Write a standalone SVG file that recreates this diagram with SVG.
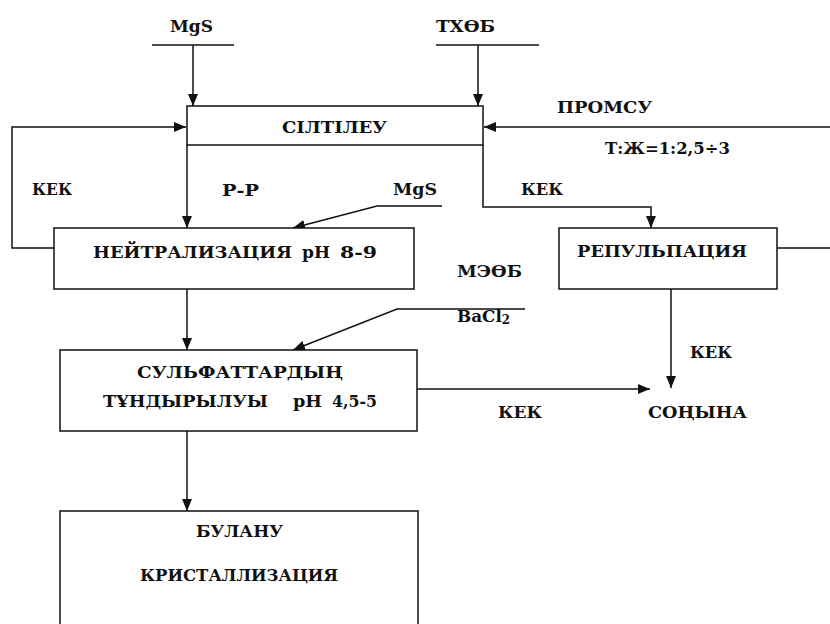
<svg xmlns="http://www.w3.org/2000/svg" width="830" height="624" viewBox="0 0 830 624">
<style>
.t{font-family:'DejaVu Serif','Liberation Serif',serif;font-weight:700;font-size:17px;fill:#111}
.b{fill:#fff;stroke:#111;stroke-width:1.5}
.c{fill:none;stroke:#111;stroke-width:1.5}
</style>
<defs>
<marker id="ah" markerUnits="userSpaceOnUse" markerWidth="12" markerHeight="12" viewBox="0 0 12 12" refX="12" refY="6" orient="auto">
<path d="M0,1 L12,6 L0,11 Z" fill="#111"/>
</marker>
</defs>
<rect width="830" height="624" fill="#fff"/>
<g id="connectors">
<path class="c" d="M152,45 H234"/>
<path class="c" d="M193,45 V106" marker-end="url(#ah)"/>
<path class="c" d="M436,45 H539"/>
<path class="c" d="M478,45 V106" marker-end="url(#ah)"/>
<path class="c" d="M54,248 H12 V127 H186" marker-end="url(#ah)"/>
<path class="c" d="M187,145 V228" marker-end="url(#ah)"/>
<path class="c" d="M442,206 H377 L293,228" marker-end="url(#ah)"/>
<path class="c" d="M830,127 H484" marker-end="url(#ah)"/>
<path class="c" d="M483,145 V207 H651 V228" marker-end="url(#ah)"/>
<path class="c" d="M777,248 H830"/>
<path class="c" d="M187,289 V350" marker-end="url(#ah)"/>
<path class="c" d="M525,309 H397 L293,350" marker-end="url(#ah)"/>
<path class="c" d="M417,389 H650" marker-end="url(#ah)"/>
<path class="c" d="M671,289 V388" marker-end="url(#ah)"/>
<path class="c" d="M187,431 V511" marker-end="url(#ah)"/>
</g>
<g id="labels">
<text class="t" x="170" y="32" textLength="43" lengthAdjust="spacingAndGlyphs">MgS</text>
<text class="t" x="436" y="32" textLength="59" lengthAdjust="spacingAndGlyphs">ТХӨБ</text>
<text class="t" x="32" y="195" textLength="40" lengthAdjust="spacingAndGlyphs">КЕК</text>
<text class="t" x="222" y="196" textLength="37" lengthAdjust="spacingAndGlyphs">Р-Р</text>
<text class="t" x="393" y="195" textLength="44" lengthAdjust="spacingAndGlyphs">MgS</text>
<text class="t" x="521" y="195" textLength="42" lengthAdjust="spacingAndGlyphs">КЕК</text>
<text class="t" x="557" y="113" textLength="95" lengthAdjust="spacingAndGlyphs">ПРОМСУ</text>
<text class="t" x="605" y="154" textLength="125" lengthAdjust="spacingAndGlyphs">Т:Ж=1:2,5÷3</text>
<text class="t" x="457" y="277" textLength="65" lengthAdjust="spacingAndGlyphs">МЭӨБ</text>
<text class="t" x="457" y="322" textLength="53" lengthAdjust="spacingAndGlyphs">BaCl<tspan font-size="12" dy="2">2</tspan></text>
<text class="t" x="690" y="358" textLength="42" lengthAdjust="spacingAndGlyphs">КЕК</text>
<text class="t" x="498" y="418" textLength="44" lengthAdjust="spacingAndGlyphs">КЕК</text>
<text class="t" x="648" y="418" textLength="99" lengthAdjust="spacingAndGlyphs">СОҢЫНА</text>
</g>
<g id="siltileu">
<rect class="b" x="187" y="106" width="296" height="39"/>
<text class="t" x="282" y="133" textLength="105" lengthAdjust="spacingAndGlyphs">СІЛТІЛЕУ</text>
</g>
<g id="neitralizacia">
<rect class="b" x="54" y="228" width="360" height="61"/>
<text class="t" x="93" y="258" textLength="199" lengthAdjust="spacingAndGlyphs">НЕЙТРАЛИЗАЦИЯ</text>
<text class="t" x="302" y="258" textLength="28" lengthAdjust="spacingAndGlyphs">рН</text>
<text class="t" x="340" y="258" textLength="37" lengthAdjust="spacingAndGlyphs">8-9</text>
</g>
<g id="repulpacia">
<rect class="b" x="559" y="228" width="218" height="61"/>
<text class="t" x="577" y="257" textLength="170" lengthAdjust="spacingAndGlyphs">РЕПУЛЬПАЦИЯ</text>
</g>
<g id="sulfat">
<rect class="b" x="60" y="350" width="357" height="81"/>
<text class="t" x="137" y="378" textLength="206" lengthAdjust="spacingAndGlyphs">СУЛЬФАТТАРДЫҢ</text>
<text class="t" x="103" y="407" textLength="165" lengthAdjust="spacingAndGlyphs">ТҰНДЫРЫЛУЫ</text>
<text class="t" x="293" y="407" textLength="29" lengthAdjust="spacingAndGlyphs">рН</text>
<text class="t" x="332" y="407" textLength="45" lengthAdjust="spacingAndGlyphs">4,5-5</text>
</g>
<g id="bulanu">
<rect class="b" x="60" y="511" width="358" height="130"/>
<text class="t" x="196" y="537" textLength="87" lengthAdjust="spacingAndGlyphs">БУЛАНУ</text>
<text class="t" x="140" y="581" textLength="198" lengthAdjust="spacingAndGlyphs">КРИСТАЛЛИЗАЦИЯ</text>
</g>
</svg>
